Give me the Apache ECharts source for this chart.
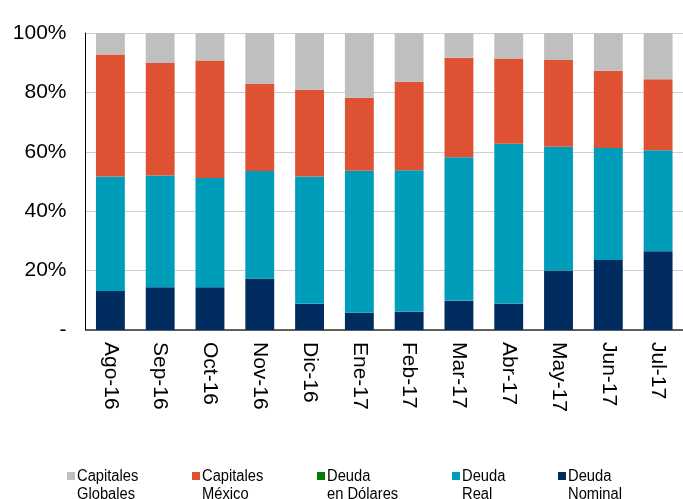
<!DOCTYPE html>
<html>
<head>
<meta charset="utf-8">
<script src="https://cdn.jsdelivr.net/npm/echarts@6/dist/echarts.min.js"></script>
<style>
  html, body { margin: 0; padding: 0; background: #fff; }
  #chart { width: 683px; height: 499px; }
</style>
</head>
<body>
<div id="chart"></div>
<script>
const months = ['Ago-16', 'Sep-16', 'Oct-16', 'Nov-16', 'Dic-16', 'Ene-17',
  'Feb-17', 'Mar-17', 'Abr-17', 'May-17', 'Jun-17', 'Jul-17']

// porcentajes
const deudaNominal = [13.1, 14.4, 14.4, 17.3, 8.8, 5.8, 6.2, 9.9, 8.9, 20.0, 23.6, 26.5]
const deudaReal = [38.6, 37.6, 36.8, 36.2, 42.9, 47.8, 47.6, 48.3, 53.8, 41.7, 37.7, 34.0]
const deudaDolares = [0, 0, 0, 0, 0, 0, 0, 0, 0, 0, 0, 0]
const capMexico = [41.1, 37.9, 39.5, 29.3, 29.2, 24.6, 29.8, 33.5, 28.7, 29.2, 26.0, 23.9]
const capGlobales = [7.2, 10.1, 9.3, 17.2, 19.1, 21.8, 16.4, 8.3, 8.6, 9.1, 12.7, 15.6]

const yTicks = { 0: '-', 20: '20%', 40: '40%', 60: '60%', 80: '80%', 100: '100%' }

const chart = echarts.init(document.getElementById('chart'))

const font = 'Liberation Sans, Arial, sans-serif'

function bar(name, data, color) {
  return {
    name: name,
    type: 'bar',
    stack: 'total',
    barWidth: '58%',
    data: data,
    itemStyle: { color: color },
    animation: false
  }
}

// una leyenda por elemento, el espaciado no es regular
const legendItems = [
  { name: 'Capitales Globales', label: 'Capitales\nGlobales', left: 67 },
  { name: 'Capitales México', label: 'Capitales\nMéxico', left: 192 },
  { name: 'Deuda en Dólares', label: 'Deuda\nen Dólares', left: 317 },
  { name: 'Deuda Real', label: 'Deuda\nReal', left: 452 },
  { name: 'Deuda Nominal', label: 'Deuda\nNominal', left: 558 }
]

chart.setOption({
  backgroundColor: '#fff',
  grid: {
    left: 85.5,
    right: -2.5,
    top: 33,
    bottom: 169
  },
  legend: legendItems.map(it => ({
    data: [it.name],
    left: it.left,
    top: 472,
    icon: 'rect',
    itemWidth: 8,
    itemHeight: 8,
    itemGap: 0,
    padding: 0,
    selectedMode: false,
    formatter: () => '',
    textStyle: { fontSize: 1, padding: 0 }
  })),
  // textos de la leyenda, fuente angosta simulada con scaleX
  graphic: legendItems.map(it => ({
    type: 'text',
    x: it.left + 10,
    y: 468,
    scaleX: 0.92,
    silent: true,
    style: {
      text: it.label,
      font: '16px ' + font,
      lineHeight: 18,
      fill: '#000'
    }
  })),
  xAxis: {
    type: 'category',
    data: months,
    axisLine: { lineStyle: { color: '#333', width: 1.5 } },
    axisTick: { show: false },
    axisLabel: {
      rotate: -90,
      interval: 0,
      margin: 12,
      color: '#000',
      fontSize: 21,
      fontFamily: font
    }
  },
  yAxis: {
    type: 'value',
    min: 0,
    max: 100,
    interval: 20,
    axisLine: { show: true, lineStyle: { color: '#000', width: 1 } },
    axisTick: { show: false },
    splitLine: { lineStyle: { color: '#cfcfcf', width: 1 } },
    axisLabel: {
      margin: 19,
      color: '#000',
      fontSize: 21,
      fontFamily: font,
      formatter: v => yTicks[v]
    }
  },
  series: [
    bar('Deuda Nominal', deudaNominal, '#002c5f'),
    bar('Deuda Real', deudaReal, '#009dba'),
    bar('Deuda en Dólares', deudaDolares, '#008000'),
    bar('Capitales México', capMexico, '#de5233'),
    bar('Capitales Globales', capGlobales, '#bfbfbf')
  ]
})
</script>
</body>
</html>
